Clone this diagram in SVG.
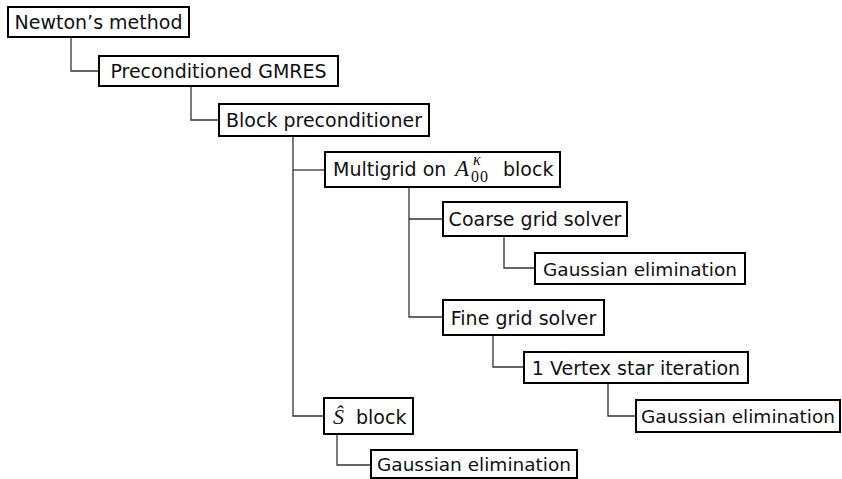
<svg xmlns="http://www.w3.org/2000/svg" width="842" height="479" viewBox="0 0 842 479">
<style>
.box{fill:#fff;stroke:#000;stroke-width:2}
.lbl{font-family:"DejaVu Sans","Liberation Sans",sans-serif;font-size:19px;fill:#111;text-anchor:middle}
.lbl.g{font-size:18.5px}
.l{font-family:"DejaVu Sans","Liberation Sans",sans-serif;font-size:19px;fill:#111}
.m{font-family:"Liberation Serif","Times New Roman",serif;font-style:italic;fill:#111}
.mr{font-family:"Liberation Serif","Times New Roman",serif;fill:#111}
.con{fill:none;stroke:#333;stroke-width:1.3}
</style>
<rect width="842" height="479" fill="#fff"/>
<g id="connectors">
<path class="con" d="M71,37 V71 H99"/>
<path class="con" d="M191,86 V120 H219"/>
<path class="con" d="M293,136 V416 H324"/>
<path class="con" d="M293,170 H325"/>
<path class="con" d="M409,187 V317 H443"/>
<path class="con" d="M409,219 H443"/>
<path class="con" d="M504,236 V268 H535"/>
<path class="con" d="M493,335 V367 H524"/>
<path class="con" d="M608,383 V416 H636"/>
<path class="con" d="M337,434 V465 H371"/>
</g>
<g id="newton">
<rect class="box" x="8" y="7" width="181" height="30"/>
<text class="lbl" x="98.5" y="29">Newton’s method</text>
</g>
<g id="gmres">
<rect class="box" x="99" y="56" width="239" height="30"/>
<text class="lbl" x="218.5" y="78">Preconditioned GMRES</text>
</g>
<g id="blockprec">
<rect class="box" x="219" y="104" width="210" height="32"/>
<text class="lbl" x="324" y="127">Block preconditioner</text>
</g>
<g id="multigrid">
<rect class="box" x="325" y="152" width="235" height="35"/>
<text class="l" x="333" y="176">Multigrid on</text>
<text class="m" x="455" y="176" font-size="23">A</text>
<text class="m" x="473" y="165" font-size="16">κ</text>
<text class="mr" x="471" y="182" font-size="16" letter-spacing="1">00</text>
<text class="l" x="503" y="176">block</text>
</g>
<g id="coarse">
<rect class="box" x="443" y="202" width="184" height="34"/>
<text class="lbl" x="535" y="226">Coarse grid solver</text>
</g>
<g id="gauss1">
<rect class="box" x="535" y="253" width="210" height="31"/>
<text class="lbl g" x="640" y="275.5">Gaussian elimination</text>
</g>
<g id="fine">
<rect class="box" x="443" y="300" width="161" height="35"/>
<text class="lbl" x="523.5" y="324.5">Fine grid solver</text>
</g>
<g id="vertex">
<rect class="box" x="524" y="352" width="224" height="31"/>
<text class="lbl" x="636" y="374.5">1 Vertex star iteration</text>
</g>
<g id="gauss2">
<rect class="box" x="636" y="400" width="204" height="32"/>
<text class="lbl g" x="738" y="423">Gaussian elimination</text>
</g>
<g id="shat">
<rect class="box" x="324" y="398" width="89" height="36"/>
<text class="m" x="333" y="424" font-size="22">Ŝ</text>
<text class="l" x="356" y="424">block</text>
</g>
<g id="gauss3">
<rect class="box" x="371" y="450" width="206" height="28"/>
<text class="lbl g" x="474" y="471">Gaussian elimination</text>
</g>
</svg>
